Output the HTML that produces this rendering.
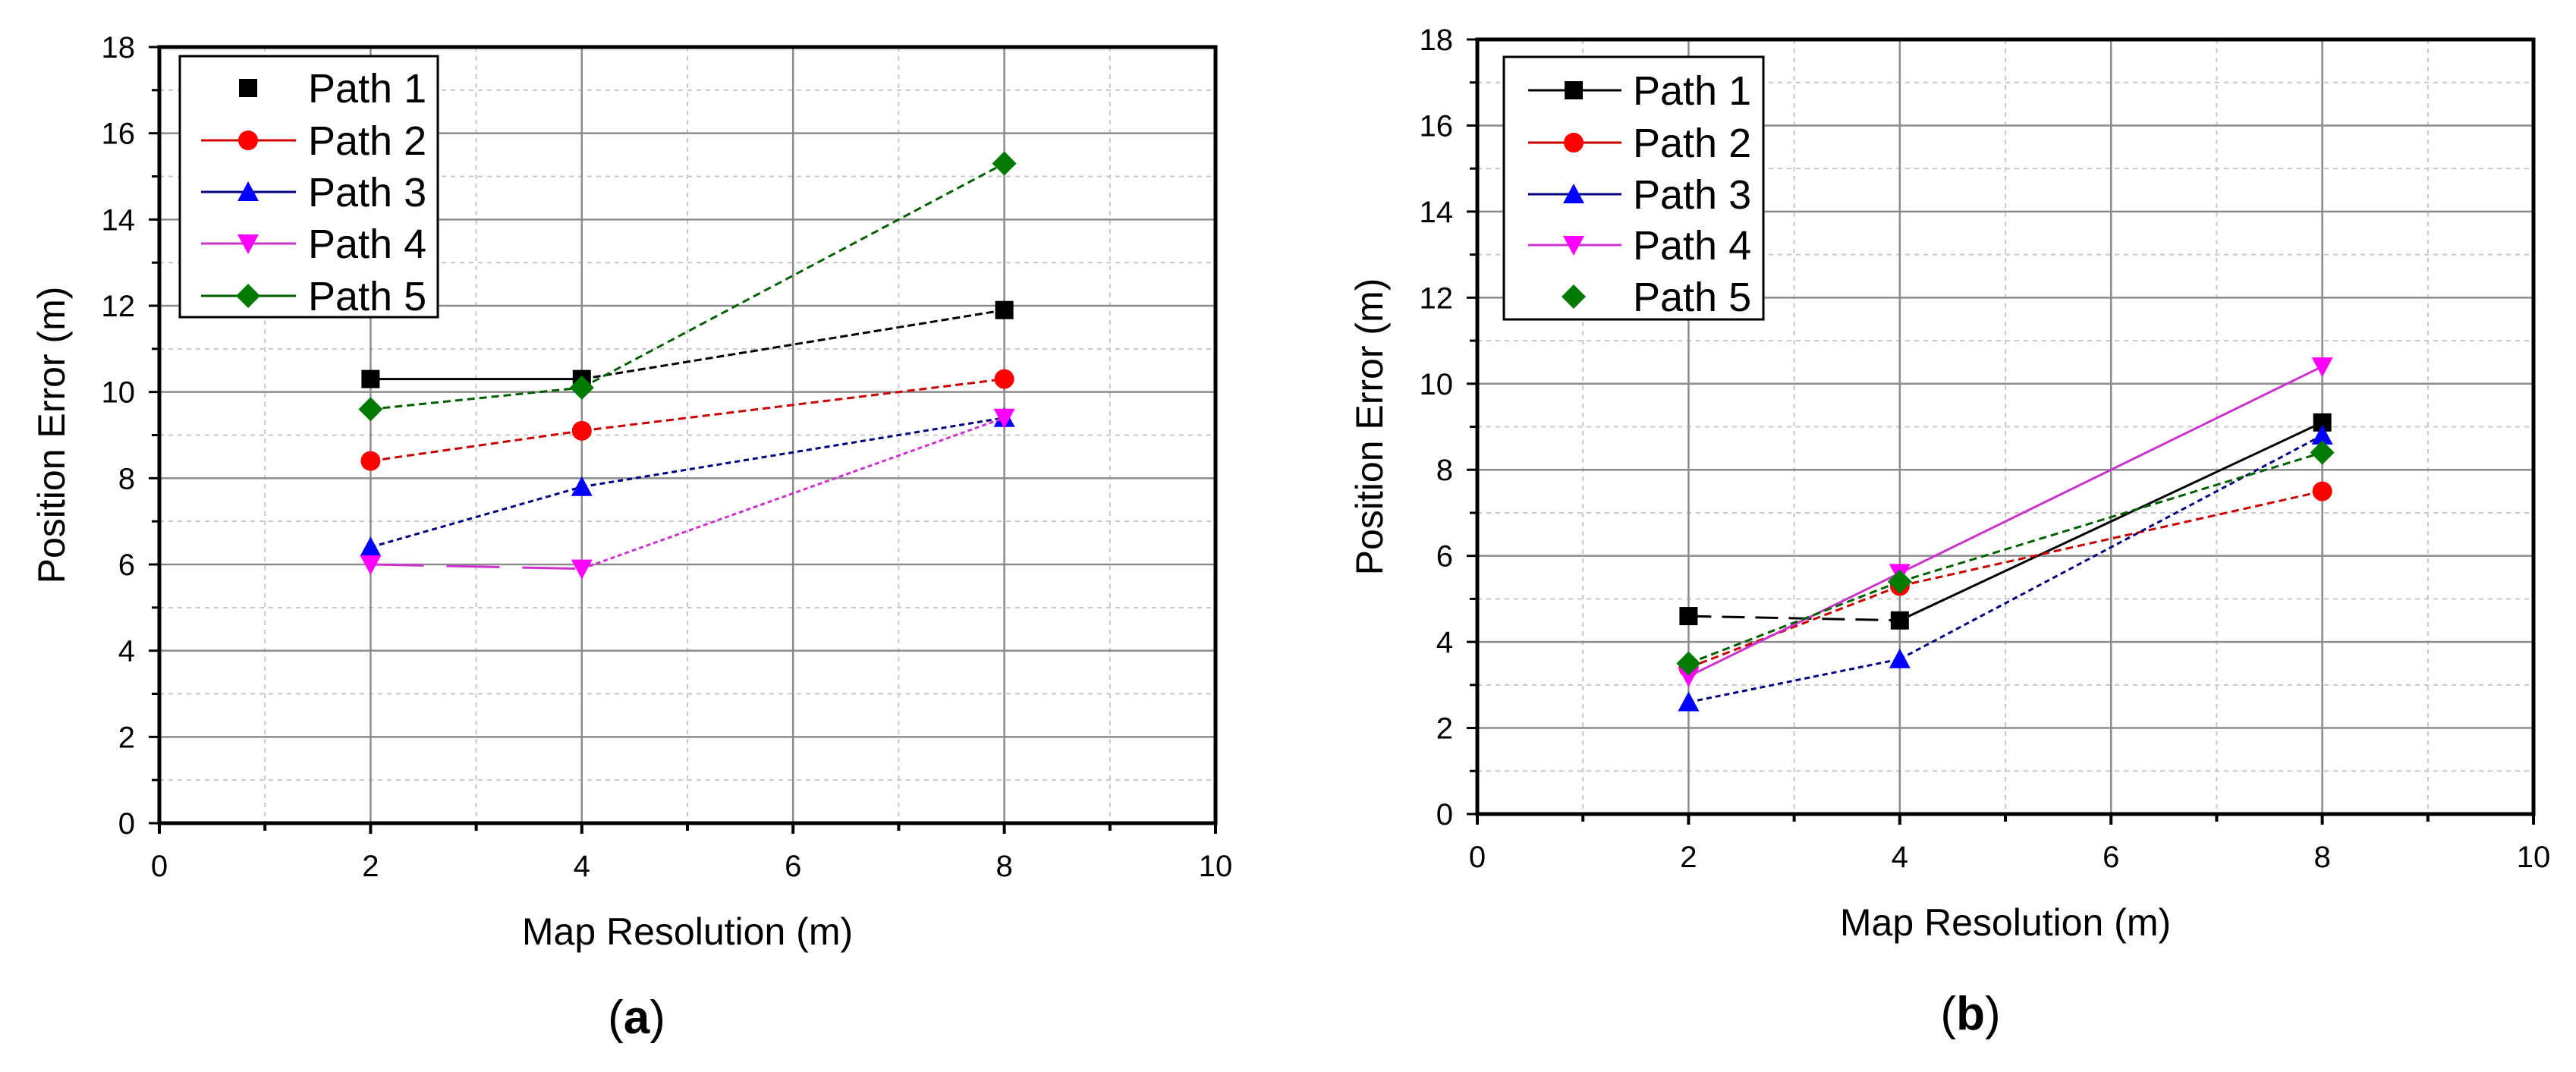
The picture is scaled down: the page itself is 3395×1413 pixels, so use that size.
<!DOCTYPE html>
<html><head><meta charset="utf-8">
<style>
html,body{margin:0;padding:0;background:#fff;}
svg{display:block;}
text{font-family:"Liberation Sans",Arial,sans-serif;}
</style></head>
<body>
<svg id="fig" width="3395" height="1413" viewBox="0 0 3395 1413" xmlns="http://www.w3.org/2000/svg"></svg>
<script>
const xTicks = [0, 2, 4, 6, 8, 10];
const yTicks = [0, 2, 4, 6, 8, 10, 12, 14, 16, 18];
const xCats = [2, 4, 8];
const seriesNames = ["Path 1", "Path 2", "Path 3", "Path 4", "Path 5"];
const aPath1 = [10.3, 10.3, 11.9];
const aPath2 = [8.4, 9.1, 10.3];
const aPath3 = [6.4, 7.8, 9.4];
const aPath4 = [6.0, 5.9, 9.4];
const aPath5 = [9.6, 10.1, 15.3];
const bPath1 = [4.6, 4.5, 9.1];
const bPath2 = [3.4, 5.3, 7.5];
const bPath3 = [2.6, 3.6, 8.8];
const bPath4 = [3.2, 5.6, 10.4];
const bPath5 = [3.5, 5.4, 8.4];

const NS = "http://www.w3.org/2000/svg";
const svg = document.getElementById("fig");
function mk(tag, attrs, parent, txt){
  const e = document.createElementNS(NS, tag);
  for (const k in attrs) e.setAttribute(k, attrs[k]);
  if (txt !== undefined) e.textContent = txt;
  (parent || svg).appendChild(e);
  return e;
}
const styles = [
  {fill:"#000", line:"#000", marker:"square", dash:"10,5"},
  {fill:"#ff0000", line:"#cc0000", marker:"circle", dash:"10,6"},
  {fill:"#0000ff", line:"#000080", marker:"up", dash:"7,5"},
  {fill:"#ff00ff", line:"#cc33cc", marker:"down", dash:"6,4"},
  {fill:"#007a00", line:"#006000", marker:"diamond", dash:"10,6"}
];
function marker(g, type, cx, cy, color, s){
  let e;
  if (type === "square") e = mk("rect", {x:cx-s/2, y:cy-s/2, width:s, height:s, fill:color}, g);
  else if (type === "circle") e = mk("circle", {cx:cx, cy:cy, r:s/2+1, fill:color}, g);
  else if (type === "up") e = mk("polygon", {points:`${cx},${cy-s/2-2} ${cx-s/2-2},${cy+s/2} ${cx+s/2+2},${cy+s/2}`, fill:color}, g);
  else if (type === "down") e = mk("polygon", {points:`${cx},${cy+s/2+2} ${cx-s/2-2},${cy-s/2} ${cx+s/2+2},${cy-s/2}`, fill:color}, g);
  else e = mk("polygon", {points:`${cx},${cy-s/2-4} ${cx+s/2+4},${cy} ${cx},${cy+s/2+4} ${cx-s/2-4},${cy}`, fill:color}, g);
  return e;
}

function chart(cfg){
  const {L,R,T,B,name,data,leg,caption,segDash} = cfg;
  const g = mk("g", {}, svg);
  
  
  const X = v => L + (v - 0) / 10 * (R - L);
  const Y = v => B - (v - 0) / 18 * (B - T);
  for (let v = 1; v < 10; v += 2) { const l = mk("line", {x1:X(v), x2:X(v), y1:T, y2:B, stroke:"#c8c8c8", "stroke-width":2, "stroke-dasharray":"6,6"}, g);   }
  for (let v = 1; v < 18; v += 2) { const l = mk("line", {x1:L, x2:R, y1:Y(v), y2:Y(v), stroke:"#c8c8c8", "stroke-width":2, "stroke-dasharray":"6,6"}, g);   }
  for (const v of xTicks) if (v>0 && v<10) { const l = mk("line", {x1:X(v), x2:X(v), y1:T, y2:B, stroke:"#8c8c8c", "stroke-width":2.5}, g);   }
  for (const v of yTicks) if (v>0 && v<18) { const l = mk("line", {x1:L, x2:R, y1:Y(v), y2:Y(v), stroke:"#8c8c8c", "stroke-width":2.5}, g);   }
  const fr = mk("rect", {x:L, y:T, width:R-L, height:B-T, fill:"none", stroke:"#000", "stroke-width":5}, g);
   
  for (let v = 0; v <= 10; v++) { const major = v % 2 === 0; mk("line", {x1:X(v), x2:X(v), y1:B, y2:B + (major?14:10), stroke:"#000", "stroke-width":4}, g); }
  for (let v = 0; v <= 18; v++) { const major = v % 2 === 0; mk("line", {x1:L, x2:L - (major?14:10), y1:Y(v), y2:Y(v), stroke:"#000", "stroke-width":3}, g); }
  for (const v of xTicks) { const t = mk("text", {x:X(v), y:B+70, "font-size":40, "text-anchor":"middle"}, g, String(v));   }
  for (const v of yTicks) { const t = mk("text", {x:L-32, y:Y(v)+14, "font-size":40, "text-anchor":"end"}, g, String(v));   }
  const xt = mk("text", {x:(L+R)/2, y:B+160, "font-size":50, "text-anchor":"middle"}, g, "Map Resolution (m)");
   
  const yx = L - 125, yy = (T+B)/2;
  const yt = mk("text", {x:yx, y:yy, "font-size":50, "text-anchor":"middle", transform:`rotate(-90 ${yx} ${yy})`}, g, "Position Error (m)");
   
  data.forEach((vals, i) => {
    const st = styles[i];
    const sg = mk("g", {}, g);
    
    
    for (let j = 0; j < xCats.length - 1; j++) {
      const d = (segDash && segDash[i] && segDash[i][j] !== undefined) ? segDash[i][j] : st.dash;
      const attrs = {x1:X(xCats[j]), y1:Y(vals[j]), x2:X(xCats[j+1]), y2:Y(vals[j+1]), stroke:st.line, "stroke-width":3};
      if (d) attrs["stroke-dasharray"] = d;
      const ln = mk("line", attrs, sg);
      
      
    }
    xCats.forEach((c, j) => {
      const m = marker(sg, st.marker, X(c), Y(vals[j]), st.fill, 24);
      
      
    });
  });
  const lg = mk("g", {}, g);
  
  
  mk("rect", {x:leg.x, y:leg.y, width:leg.w, height:leg.h, fill:"#fff", stroke:"#000", "stroke-width":3}, lg);
  seriesNames.forEach((n, i) => {
    const st = styles[i];
    const ry = leg.rows[i];
    const eg = mk("g", {}, lg);
    
    
    if (leg.showLine[i]) mk("line", {x1:leg.l1, x2:leg.l2, y1:ry, y2:ry, stroke:st.line, "stroke-width":3}, eg);
    marker(eg, st.marker, leg.mx, ry, st.fill, 24);
    mk("text", {x:leg.tx, y:ry+19, "font-size":54}, eg, n);
  });
  const cap = mk("text", {x:caption.x, y:caption.y, "font-size":62, "text-anchor":"middle", "font-family":"Liberation Serif, serif"}, g);
   
  mk("tspan", {}, cap, "(");
  mk("tspan", {"font-weight":"bold"}, cap, caption.t);
  mk("tspan", {}, cap, ")");
}

chart({L:210, R:1602, T:62, B:1085, name:"chart-a",
  data:[aPath1,aPath2,aPath3,aPath4,aPath5],
  segDash:[["",undefined],null,null,["70,30",undefined],null],
  leg:{x:237, y:74, w:340, h:344, rows:[116,185,253,321,390], mx:327, l1:265, l2:390, tx:406, showLine:[false,true,true,true,true]},
  caption:{x:839, y:1362, t:"a"}});
chart({L:1947, R:3339, T:52, B:1073, name:"chart-b",
  data:[bPath1,bPath2,bPath3,bPath4,bPath5],
  segDash:[["30,14",""],null,null,["",""],null],
  leg:{x:1982, y:75, w:342, h:346, rows:[119,188,256,323,391], mx:2074, l1:2014, l2:2137, tx:2152, showLine:[true,true,true,true,false]},
  caption:{x:2597, y:1357, t:"b"}});
</script>
</body></html>
